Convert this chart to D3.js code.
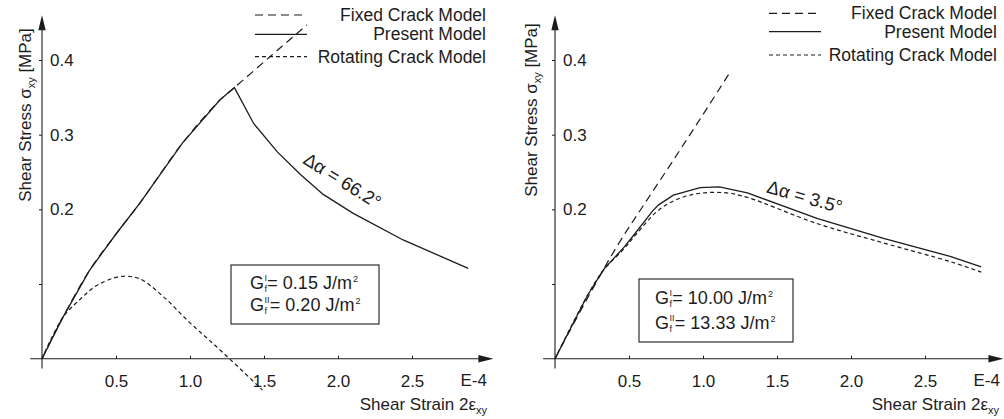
<!DOCTYPE html>
<html>
<head>
<meta charset="utf-8">
<script src="https://cdn.jsdelivr.net/npm/d3@7"></script>
<style>
    body { margin: 0; background: #fff; }
    svg { display: block; font-family: "Liberation Sans", Arial, sans-serif; }
</style>
</head>
<body>
<svg id="chart" width="1004" height="419"></svg>
<script>
// strain in E-4, stress in MPa
const strainTicks = [0.5, 1.0, 1.5, 2.0, 2.5];
const strainTickLabels = ['0.5', '1.0', '1.5', '2.0', '2.5'];
const stressTicks = [0.1, 0.2, 0.3, 0.4];
const stressTickLabels = ['', '0.2', '0.3', '0.4'];
const legendLabels = ['Fixed Crack Model', 'Present Model', 'Rotating Crack Model'];

// left: Gf = 0.15 / 0.20
const leftFixed = [[0, 0], [0.14, 0.055], [0.32, 0.118], [0.5, 0.167], [0.66, 0.208], [0.95, 0.289],
    [1.2, 0.346], [1.3, 0.363], [1.55, 0.406], [1.79, 0.447]];
const leftPresent = [[0, 0], [0.14, 0.055], [0.32, 0.118], [0.5, 0.167], [0.66, 0.208], [0.95, 0.289],
    [1.2, 0.346], [1.3, 0.363], [1.43, 0.315], [1.59, 0.277], [1.75, 0.246], [1.9, 0.22],
    [2.1, 0.195], [2.44, 0.159], [2.88, 0.121]];
const leftRotating = [[0, 0], [0.14, 0.055], [0.26, 0.08], [0.37, 0.098], [0.53, 0.11], [0.66, 0.107],
    [0.82, 0.083], [1.0, 0.048], [1.18, 0.016], [1.49, -0.042]];
const leftEnergy = ['0.15', '0.20'];
const leftRotation = '66.2';

// right: Gf = 10.00 / 13.33
const rightFixed = [[0, 0], [0.2, 0.074], [0.417, 0.15], [0.6, 0.206], [0.8, 0.266], [1.0, 0.327],
    [1.19, 0.386]];
const rightPresent = [[0, 0], [0.22, 0.085], [0.33, 0.12], [0.47, 0.15], [0.55, 0.17], [0.66, 0.198],
    [0.7, 0.206], [0.8, 0.219], [0.98, 0.229], [1.11, 0.23], [1.3, 0.222], [1.77, 0.188],
    [2.22, 0.161], [2.67, 0.137], [2.88, 0.123]];
const rightRotating = [[0, 0], [0.22, 0.085], [0.33, 0.119], [0.47, 0.148], [0.55, 0.167], [0.7, 0.199],
    [0.845, 0.215], [1.0, 0.222], [1.16, 0.222], [1.3, 0.216], [1.77, 0.181], [2.22, 0.155],
    [2.67, 0.13], [2.88, 0.116]];
const rightEnergy = ['10.00', '13.33'];
const rightRotation = '3.5';

const INK = '#1c1c1c';
const DASH_FIXED = '8,5';
const DASH_ROT = '4,3';

class ShearChart {
    constructor(svg, fixed, present, rotating, energy, rotation, layout) {
        this.svg = svg;
        this.fixed = fixed;
        this.present = present;
        this.rotating = rotating;
        this.energy = energy;
        this.rotation = rotation;
        this.L = layout;

        this.xScale = d3.scaleLinear()
            .domain([0, 3])
            .range([layout.x0, layout.x0 + 444]);
        this.yScale = d3.scaleLinear()
            .domain([0, 0.4])
            .range([358.7, 60]);

        this.g = svg.append('g');
        this.drawAxis();
        this.drawCurves();
        this.drawLegend();
        this.drawBox();
        this.drawNote();
    }

    drawAxis() {
        let x = this.xScale, y = this.yScale, g = this.g;

        let xAxis = d3.axisBottom(x)
            .tickValues(strainTicks)
            .tickFormat((d, i) => strainTickLabels[i])
            .tickSize(-3)
            .tickSizeOuter(0)
            .tickPadding(16);
        let xg = g.append('g')
            .attr('transform', `translate(0, ${y(0)})`)
            .call(xAxis);
        xg.select('.domain').remove();
        xg.selectAll('.tick line').attr('stroke', INK);
        xg.selectAll('.tick text').attr('font-size', 17).attr('fill', INK)
            .attr('font-family', '"Liberation Sans", Arial, sans-serif');

        let yAxis = d3.axisRight(y)
            .tickValues(stressTicks)
            .tickFormat((d, i) => stressTickLabels[i])
            .tickSize(-3)
            .tickSizeOuter(0)
            .tickPadding(8);
        let yg = g.append('g')
            .attr('transform', `translate(${x(0)}, 0)`)
            .call(yAxis);
        yg.select('.domain').remove();
        yg.selectAll('.tick line').attr('stroke', INK);
        yg.selectAll('.tick text').attr('font-size', 17).attr('fill', INK)
            .attr('font-family', '"Liberation Sans", Arial, sans-serif');

        // axis lines with arrow heads
        let xEnd = x(this.L.xTip), yEnd = y(0.46);
        g.append('line')
            .attr('x1', x(-0.08)).attr('x2', xEnd - 6)
            .attr('y1', y(0)).attr('y2', y(0))
            .attr('stroke', INK).attr('stroke-width', 1.1);
        g.append('path')
            .attr('d', `M${xEnd},${y(0)}L${xEnd - 15},${y(0) - 3.7}L${xEnd - 15},${y(0) + 3.7}Z`)
            .attr('fill', INK);
        g.append('line')
            .attr('x1', x(0)).attr('x2', x(0))
            .attr('y1', y(-0.013)).attr('y2', yEnd + 6)
            .attr('stroke', INK).attr('stroke-width', 1.1);
        g.append('path')
            .attr('d', `M${x(0)},${yEnd}L${x(0) - 3.7},${yEnd + 15}L${x(0) + 3.7},${yEnd + 15}Z`)
            .attr('fill', INK);

        g.append('text')
            .attr('x', x(3) + 1).attr('y', 386)
            .attr('text-anchor', 'end').attr('font-size', 17).attr('fill', INK)
            .text('E-4');

        let xl = g.append('text')
            .attr('x', this.L.xLabelX).attr('y', 410)
            .attr('text-anchor', 'end').attr('font-size', 17).attr('fill', INK)
            .text('Shear Strain 2\u03b5');
        xl.append('tspan').attr('font-size', 11).attr('dy', 4).text('xy');

        let yl = g.append('text')
            .attr('transform', `translate(${this.L.yLabelX}, ${this.L.yLabelY}) rotate(-90)`)
            .attr('text-anchor', 'middle').attr('font-size', 17).attr('fill', INK)
            .text('Shear Stress \u03c3');
        yl.append('tspan').attr('font-size', 11).attr('dy', 4).text('xy');
        yl.append('tspan').attr('dy', -4).text(' [MPa]');
    }

    drawCurves() {
        let line = d3.line()
            .x(d => this.xScale(d[0]))
            .y(d => this.yScale(d[1]));
        let smooth = d3.line()
            .x(d => this.xScale(d[0]))
            .y(d => this.yScale(d[1]))
            .curve(d3.curveCatmullRom.alpha(0.5));

        this.g.append('path')
            .attr('d', smooth(this.fixed))
            .attr('fill', 'none').attr('stroke', INK).attr('stroke-width', 1.2)
            .attr('stroke-dasharray', DASH_FIXED);
        this.g.append('path')
            .attr('d', smooth(this.rotating))
            .attr('fill', 'none').attr('stroke', INK).attr('stroke-width', 1.2)
            .attr('stroke-dasharray', DASH_ROT);
        this.g.append('path')
            .attr('d', line(this.present))
            .attr('fill', 'none').attr('stroke', INK).attr('stroke-width', 1.3);
    }

    drawLegend() {
        let lg = this.L.legend;
        let dashes = [DASH_FIXED, null, DASH_ROT];
        let rows = this.g.selectAll('.legend-row')
            .data(legendLabels)
            .join('g')
            .attr('class', 'legend-row');
        rows.append('line')
            .attr('x1', lg.x1).attr('x2', lg.x2)
            .attr('y1', (d, i) => lg.rows[i]).attr('y2', (d, i) => lg.rows[i])
            .attr('stroke', INK).attr('stroke-width', 1.2)
            .attr('stroke-dasharray', (d, i) => dashes[i]);
        rows.append('text')
            .attr('x', lg.textX).attr('y', (d, i) => lg.rows[i] + 6)
            .attr('text-anchor', 'end').attr('font-size', 17.5).attr('fill', INK)
            .text(d => d);
    }

    drawBox() {
        let b = this.L.box;
        this.g.append('rect')
            .attr('x', b.x).attr('y', b.y).attr('width', b.w).attr('height', b.h)
            .attr('fill', '#fff').attr('stroke', INK).attr('stroke-width', 1.1);
        let marks = ['I', 'II'];
        this.energy.forEach((v, i) => {
            let t = this.g.append('text')
                .attr('x', b.textX).attr('y', b.lines[i])
                .attr('font-size', 18).attr('fill', INK)
                .text('G');
            t.append('tspan').attr('font-size', 9).attr('dx', 0.5).attr('dy', 2.5).text('f');
            t.append('tspan').attr('font-size', 9).attr('dx', -2.5).attr('dy', -10.5).text(marks[i]);
            t.append('tspan').attr('dy', 8).attr('dx', 0.3).text(`= ${v} J/m`);
            t.append('tspan').attr('font-size', 9).attr('dx', 1).attr('dy', -7).text('2');
        });
    }

    drawNote() {
        let n = this.L.note;
        this.g.append('text')
            .attr('transform', `translate(${n.x}, ${n.y}) rotate(${n.angle})`)
            .attr('text-anchor', 'middle').attr('font-size', 18.5).attr('fill', INK)
            .text(`\u0394\u03b1 = ${this.rotation}\u00b0`);
    }
}

const svg = d3.select('#chart');

new ShearChart(svg, leftFixed, leftPresent, leftRotating, leftEnergy, leftRotation, {
    x0: 42, xTip: 3.05, xLabelX: 487, yLabelX: 31, yLabelY: 115,
    legend: {x1: 255, x2: 307, textX: 486, rows: [15, 34.3, 56.7]},
    box: {x: 231, y: 265, w: 148, h: 59, textX: 250, lines: [289, 311]},
    note: {x: 339, y: 186, angle: 32}
});

new ShearChart(svg, rightFixed, rightPresent, rightRotating, rightEnergy, rightRotation, {
    x0: 555, xTip: 3.03, xLabelX: 999, yLabelX: 537, yLabelY: 110,
    legend: {x1: 769, x2: 821, textX: 997, rows: [13.3, 31.7, 55]},
    box: {x: 639, y: 279, w: 154, h: 63, textX: 655, lines: [304, 329]},
    note: {x: 803, y: 203, angle: 16}
});
</script>
</body>
</html>
